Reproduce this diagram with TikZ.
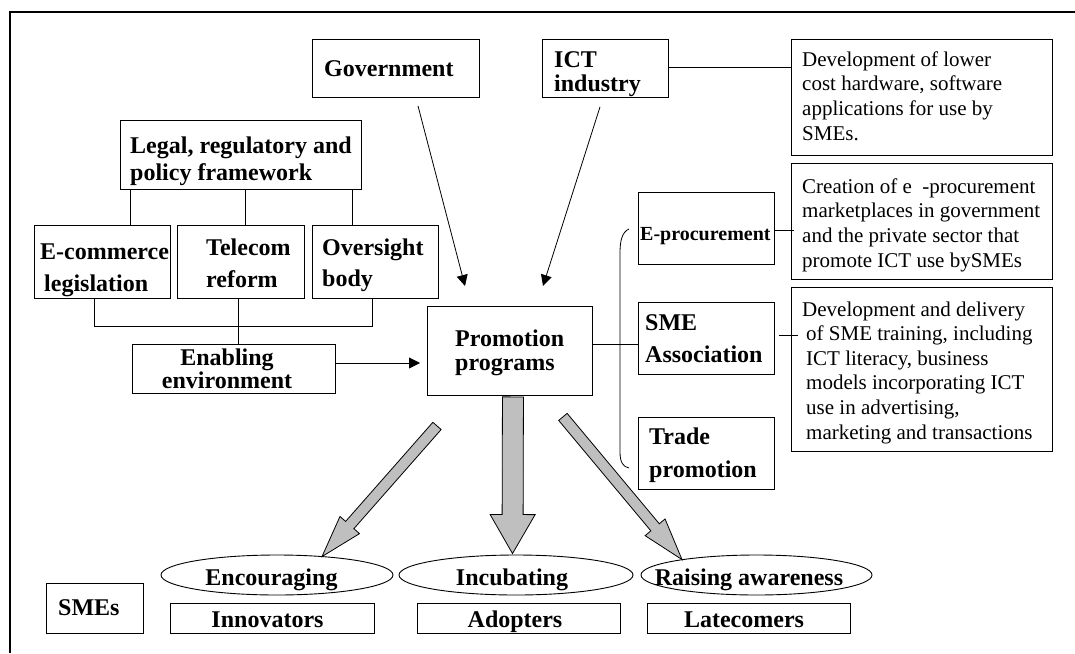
\documentclass[tikz,border=0pt]{standalone}
\usepackage{fontspec}
\setmainfont{Liberation Serif}
\usetikzlibrary{calc,arrows.meta,shapes.geometric}

% broad grey block arrow: tail, tip, half shaft width, half head width, head length
\newcommand\ProgArrow[5]{%
  \coordinate (pa-neck) at ($(#2)!#5!(#1)$);
  \draw[fat] ($(#1)!#3!90:(#2)$) -- ($(pa-neck)!#3!90:(#2)$) -- ($(pa-neck)!#4!90:(#2)$)
    -- (#2) -- ($(pa-neck)!#4!-90:(#2)$) -- ($(pa-neck)!#3!-90:(#2)$)
    -- ($(#1)!#3!-90:(#2)$) -- cycle;}

\begin{document}
\begin{tikzpicture}[x=1pt,y=-1pt,
  box/.style={draw, line width=0.9pt, inner sep=0pt, anchor=north west},
  oval/.style={draw, ellipse, line width=0.9pt, inner sep=0pt, minimum height=40pt},
  % multi-line labels sit on the baseline of their last line
  lbl/.style={inner sep=0pt, anchor=base west, align=left,
    font=\fontsize{24}{26}\selectfont\bfseries},
  mid/.style={inner sep=0pt, anchor=base, align=center,
    font=\fontsize{24}{23}\selectfont\bfseries},
  note/.style={inner sep=0pt, anchor=base west, align=left,
    font=\fontsize{21}{24.6}\selectfont},
  link/.style={line width=0.8pt},
  arr/.style={line width=0.8pt, -{Triangle[length=11pt,width=11pt]}},
  fat/.style={fill=black!25, draw, line width=0.8pt, line join=miter},
]
\useasboundingbox (0,0) rectangle (1075,653);
\fill[white] (0,0) rectangle (1075,653);

% outer frame
\draw[line width=1.3pt] (10,653) -- (10,12) -- (1075,12);

% ---------- boxes ----------
\node[box, minimum width=167pt, minimum height=58pt] (gov) at (312,39) {};
\node[box, minimum width=126pt, minimum height=58pt] (ict) at (542,39) {};
\node[box, minimum width=261pt, minimum height=116pt] (dev1) at (791,39) {};
\node[box, minimum width=241pt, minimum height=69pt] (legal) at (120,120) {};
\node[box, minimum width=136pt, minimum height=73pt] (ecom) at (34,225) {};
\node[box, minimum width=127pt, minimum height=73pt] (tele) at (177,225) {};
\node[box, minimum width=126pt, minimum height=73pt] (over) at (312,225) {};
\node[box, minimum width=203pt, minimum height=49pt] (enab) at (132,344) {};
\node[box, minimum width=165pt, minimum height=89pt] (promo) at (427,306) {};
\node[box, minimum width=136pt, minimum height=72pt] (eproc) at (638,192) {};
\node[box, minimum width=261pt, minimum height=116pt] (creat) at (791,163) {};
\node[box, minimum width=136pt, minimum height=72pt] (sme) at (638,302) {};
\node[box, minimum width=261pt, minimum height=164pt] (dev2) at (791,287) {};
\node[box, minimum width=136pt, minimum height=72pt] (trade) at (638,417) {};
\node[box, minimum width=97pt, minimum height=50pt] (smes) at (46,583) {};
\node[box, minimum width=204pt, minimum height=30pt] (innov) at (170,603) {};
\node[box, minimum width=203pt, minimum height=30pt] (adopt) at (417,603) {};
\node[box, minimum width=203pt, minimum height=30pt] (late) at (647,603) {};
\node[oval, minimum width=232pt] (enc) at (277,575) {};
\node[oval, minimum width=234pt] (inc) at (516,575) {};
\node[oval, minimum width=231pt] (rais) at (756.5,575) {};

% ---------- labels ----------
\node[lbl] (gov-t) at (324,76) {Government};
\node[lbl, font=\fontsize{24}{24}\selectfont\bfseries] (ict-t) at (554,91) {ICT\\industry};
\node[lbl, font=\fontsize{24}{26.5}\selectfont\bfseries] (legal-t) at (130,180)
  {Legal, regulatory and\\policy framework};
\node[lbl, font=\fontsize{24}{32}\selectfont\bfseries] (ecom-t) at (40,291)
  {E-commerce\\\hspace*{4pt}legislation};
\node[lbl, font=\fontsize{24}{32}\selectfont\bfseries] (tele-t) at (206,287) {Telecom\\reform};
\node[lbl, font=\fontsize{24}{31}\selectfont\bfseries] (over-t) at (322,286) {Oversight\\body};
\node[mid] (enab-t) at (227,388) {Enabling\\environment};
\node[lbl, font=\fontsize{24}{24}\selectfont\bfseries] (promo-t) at (455,370) {Promotion\\programs};
\node[lbl, font=\fontsize{20}{24}\selectfont\bfseries] (eproc-t) at (640,240) {E-procurement};
\node[lbl, font=\fontsize{24}{32}\selectfont\bfseries] (sme-t) at (645,362) {SME\\Association};
\node[lbl, font=\fontsize{24}{33}\selectfont\bfseries] (trade-t) at (649,477) {Trade\\promotion};
\node[lbl] (smes-t) at (58,615) {SMEs};
\node[mid] (innov-t) at (267.5,627) {Innovators};
\node[mid] (adopt-t) at (515,627) {Adopters};
\node[mid] (late-t) at (744,627) {Latecomers};
\node[mid] (enc-t) at (271.5,585) {Encouraging};
\node[mid] (inc-t) at (512,585) {Incubating};
\node[mid] (rais-t) at (749,585) {Raising awareness};

\node[note] (dev1-t) at (802,140)
  {Development of lower\\cost hardware, software\\applications for use by\\SMEs.};
\node[note] (creat-t) at (802,267)
  {Creation of e\hspace{0.5em}-procurement\\marketplaces in government\\and the private sector that\\promote ICT use bySMEs};
\node[note] (dev2-t) at (802,439)
  {Development and delivery\\\hspace*{4pt}of SME training, including\\\hspace*{4pt}ICT literacy, business\\\hspace*{4pt}models incorporating ICT\\\hspace*{4pt}use in advertising,\\\hspace*{4pt}marketing and transactions};

% ---------- connectors ----------
% framework to its three parts
\draw[link] ($(legal.south west)+(10,0)$) coordinate (l1) -- (l1 |- ecom.north);
\draw[link] ($(legal.south west)+(125,0)$) coordinate (l2) -- (l2 |- tele.north);
\draw[link] ($(legal.south east)+(-10,0)$) coordinate (l3) -- (l3 |- over.north);
% the three parts joined into the enabling environment
\draw[link] ($(ecom.south west)+(60,0)$) -- ++(0,27) -| ($(over.south west)+(60,0)$);
\draw[link] ($(tele.south west)+(61,0)$) coordinate (s1) -- (s1 |- enab.north);
\draw[arr] ($(enab.north east)+(0,19)$) coordinate (e1) -- ($(e1 -| promo.west)+(-7,0)$);
% government and ICT industry into promotion programs
\draw[arr] ($(gov.south west)+(106,8)$) -- ($(promo.north west)+(38,-20)$);
\draw[arr] ($(ict.south west)+(58,9)$) -- ($(promo.north west)+(116,-20)$);
% side links to the notes
\draw[link] ($(ict.north east)+(0,28)$) coordinate (i1) -- (i1 -| dev1.west);
\draw[link] ($(eproc.north east)+(0,38)$) coordinate (p1) -- ($(p1 -| creat.west)+(3,0)$);
\draw[link] ($(promo.north east)+(0,38)$) coordinate (m1) -- (m1 -| sme.west);
\draw[link] ($(sme.north east)+(4,33)$) -- ($(dev2.north west)+(7,48)$);
% bracket gathering the three programs
\coordinate (bt) at ($(eproc.north west)+(-9,37)$);
\coordinate (bb) at ($(trade.north west)+(-9,51)$);
\draw[link] (bt) .. controls ($(bt)+(-7,3)$) and ($(bt)+(-9,12)$) .. ($(bt)+(-9,24)$)
  -- ($(bb)+(-9,-16)$) .. controls ($(bb)+(-9,-6)$) and ($(bb)+(-6,-1)$) .. (bb);

% broad arrows down to the three SME groups
\coordinate (fa1) at ($(promo.south west)+(10,30)$);
\coordinate (fa1e) at ($(enc.north)+(45,2)$);
\ProgArrow{fa1}{fa1e}{5.5pt}{13pt}{42pt}
\coordinate (fa2) at ($(promo.south)+(3,1)$);
\coordinate (fa2e) at ($(inc.north)+(-3.5,-1)$);
\ProgArrow{fa2}{fa2e}{10.5pt}{22.5pt}{39pt}
\coordinate (fa3) at ($(promo.south east)+(-30,21)$);
\coordinate (fa3e) at ($(rais.north)+(-74.5,5)$);
\ProgArrow{fa3}{fa3e}{5.5pt}{13pt}{42pt}
\end{tikzpicture}
\end{document}
